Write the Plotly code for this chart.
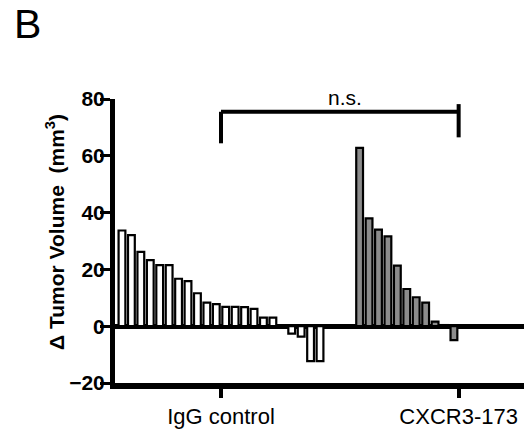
import plotly.graph_objects as go
import numpy as np

# ---- data ----
group_labels = ["IgG control", "CXCR3-173"]
igg_values = [33.7, 32.1, 26.2, 23.3, 21.5, 21.5, 16.7, 15.9, 11.6, 8.3, 7.8,
              6.8, 6.8, 6.7, 6.1, 3.0, 3.0, 0.0, -2.6, -3.7, -12.3, -12.3]
cxcr3_values = [62.8, 38.0, 34.0, 31.6, 21.3, 13.1, 10.2, 8.3, 1.6, 0.4, -4.9]
y_ticks = [-20, 0, 20, 40, 60, 80]
sig_label = "n.s."

# ---- layout constants ----
slots_per_group = 22
group_offsets = [0.0, 25.2]
bar_w = 0.72
FONT = "Liberation Sans, Arial, Helvetica, sans-serif"

x_igg = group_offsets[0] + np.arange(len(igg_values))
x_cx = group_offsets[1] + np.arange(len(cxcr3_values))
centers = [o + (slots_per_group - 1) / 2 for o in group_offsets]

fig = go.Figure()
fig.add_bar(x=x_igg, y=igg_values, width=bar_w,
            marker=dict(color="white", line=dict(color="black", width=2.2)))
fig.add_bar(x=x_cx, y=cxcr3_values, width=bar_w,
            marker=dict(color="#8c8c8c", line=dict(color="black", width=2.2)))

# significance bracket
lw = 4
fig.add_shape(type="line", x0=centers[0], x1=centers[1], y0=75.5, y1=75.5,
              line=dict(color="black", width=lw), layer="above")
fig.add_shape(type="line", x0=centers[0], x1=centers[0], y0=75.5, y1=64.4,
              line=dict(color="black", width=lw), layer="above")
fig.add_shape(type="line", x0=centers[1], x1=centers[1], y0=78.2, y1=66.5,
              line=dict(color="black", width=lw), layer="above")

# plot area in px: x 115..524, y 99..383
def px_to_paper_x(px):
    return (px - 115) / (524 - 115)

def px_to_paper_y(py):
    return (383 - py) / (383 - 99)

fig.add_annotation(x=px_to_paper_x(345), y=px_to_paper_y(97), xref="paper", yref="paper",
                   text=sig_label, showarrow=False, xanchor="center", yanchor="middle",
                   font=dict(family=FONT, size=21, color="black"))

# panel letter
fig.add_annotation(x=px_to_paper_x(12), y=px_to_paper_y(24), xref="paper", yref="paper",
                   text="B", showarrow=False, xanchor="left", yanchor="middle",
                   font=dict(family=FONT, size=41, color="black"))

# y-axis title
fig.add_annotation(x=px_to_paper_x(55), y=px_to_paper_y(232), xref="paper", yref="paper",
                   text="<b>Δ Tumor Volume&nbsp; (mm<sup>3</sup>)</b>",
                   textangle=-90, showarrow=False, xanchor="center", yanchor="middle",
                   font=dict(family=FONT, size=21, color="black"))

fig.update_layout(
    width=524, height=432,
    margin=dict(l=115, r=0, t=99, b=49),
    paper_bgcolor="white", plot_bgcolor="white",
    showlegend=False, barmode="overlay",
)
fig.update_xaxes(
    range=[-0.74, 42.63], showgrid=False, zeroline=False,
    showline=True, linecolor="black", linewidth=6,
    tickmode="array", tickvals=centers, ticktext=group_labels,
    ticks="outside", ticklen=9, tickwidth=4, tickcolor="black",
    tickfont=dict(family=FONT, size=22, color="black"),
)
fig.update_yaxes(
    range=[-20, 80], showgrid=False,
    zeroline=True, zerolinecolor="black", zerolinewidth=5,
    showline=True, linecolor="black", linewidth=5,
    tickmode="array", tickvals=y_ticks,
    ticks="outside", ticklen=10, tickwidth=3, tickcolor="black",
    ticklabelstandoff=-9,
    tickfont=dict(family=FONT, size=21, color="black", weight="bold"),
)

fig.write_html("out.html", config={"displayModeBar": False},
               post_script="document.body.style.margin='0';")
